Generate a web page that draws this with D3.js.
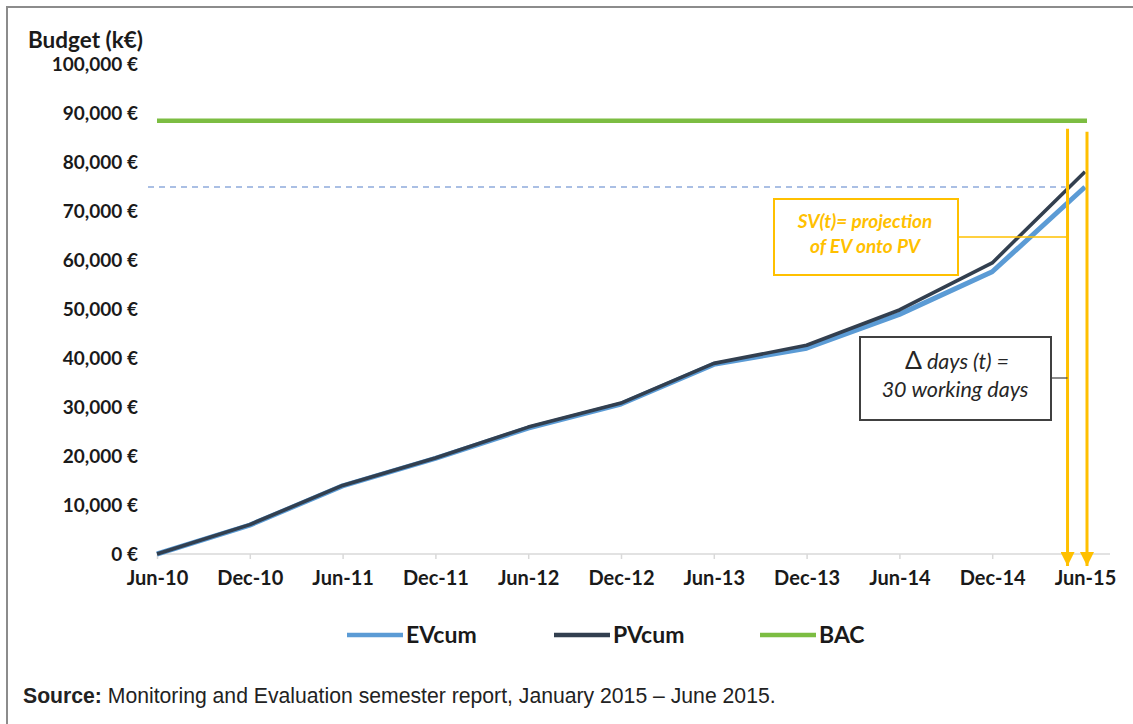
<!doctype html>
<html>
<head>
<meta charset="UTF-8">
<title>EVcum / PVcum / BAC</title>
<script src="https://cdn.jsdelivr.net/npm/d3@7"></script>
<style>
  body { margin: 0; background: #fff; }
  text { font-family: Lato, "Open Sans", sans-serif; }
</style>
</head>
<body>
<svg id="chart" width="1133" height="724"></svg>
<script>
// data
var months = ["Jun-10", "Dec-10", "Jun-11", "Dec-11", "Jun-12", "Dec-12",
              "Jun-13", "Dec-13", "Jun-14", "Dec-14", "Jun-15"];
var evCum = [0, 5900, 13900, 19500, 25700, 30600, 38700, 42000, 48900, 57600, 74900];
var pvCum = [0, 6000, 14000, 19600, 25900, 30800, 38900, 42600, 49800, 59400, 78000];
var bac = 88400;
var yTicks = [0, 10000, 20000, 30000, 40000, 50000, 60000, 70000, 80000, 90000, 100000];
var legendNames = ["EVcum", "PVcum", "BAC"];

var colEV = "#5b9bd5", colPV = "#323f4f", colBAC = "#7cbd42", gold = "#ffc000";

var svg = d3.select("#chart");

// frame (only top and left edges visible in the crop)
svg.append("rect")
   .attr("x", 7).attr("y", 7).attr("width", 1200).attr("height", 800)
   .attr("fill", "none").attr("stroke", "#8c8c8c").attr("stroke-width", 2);

var x = d3.scalePoint().domain(months).range([157, 1085]);
var y = d3.scaleLinear().domain([0, 100000]).range([554, 64]);

// y axis labels, no axis line
var yAxis = svg.append("g")
   .attr("transform", "translate(142,0)")
   .call(d3.axisLeft(y).tickValues(yTicks).tickSize(0).tickPadding(4)
        .tickFormat(function (d) { return d3.format(",")(d) + " \u20ac"; }));
yAxis.select(".domain").remove();
yAxis.selectAll("text")
   .attr("font-size", 19).attr("font-weight", "bold").attr("fill", "#1a1a1a");

svg.append("text")
   .attr("x", 28).attr("y", 48)
   .attr("font-size", 22.5).attr("font-weight", "bold").attr("fill", "#1a1a1a")
   .text("Budget (k\u20ac)");

// x axis
var xAxis = svg.append("g")
   .attr("transform", "translate(0," + y(0) + ")")
   .call(d3.axisBottom(x).tickSize(5).tickPadding(12).tickSizeOuter(0));
xAxis.select(".domain").attr("stroke", "#d9d9d9").attr("stroke-width", 1.5)
   .attr("d", "M" + x(months[0]) + ",0H" + (x(months[10]) + 25));
xAxis.selectAll(".tick line").attr("stroke", "#d9d9d9").attr("stroke-width", 1.5);
xAxis.selectAll("text")
   .attr("font-size", 20).attr("font-weight", "bold").attr("fill", "#1a1a1a");

// BAC
svg.append("line")
   .attr("x1", x(months[0])).attr("x2", x(months[10]) + 2)
   .attr("y1", y(bac)).attr("y2", y(bac))
   .attr("stroke", colBAC).attr("stroke-width", 4.5);

// projection of EV onto PV
var evEnd = evCum[evCum.length - 1];
var i0 = 9;
var t = (evEnd - pvCum[i0]) / (pvCum[i0 + 1] - pvCum[i0]);
var xProj = x(months[i0]) + t * (x(months[i0 + 1]) - x(months[i0]));

svg.append("line")
   .attr("x1", x(months[0]) - 9).attr("x2", xProj - 4)
   .attr("y1", y(evEnd)).attr("y2", y(evEnd))
   .attr("stroke", "#8eaadb").attr("stroke-width", 1.6)
   .attr("stroke-dasharray", "6,5");

var line = d3.line()
   .x(function (d, i) { return x(months[i]); })
   .y(function (d) { return y(d); });

svg.append("path").datum(evCum)
   .attr("d", line).attr("fill", "none")
   .attr("stroke", colEV).attr("stroke-width", 5).attr("stroke-linejoin", "round");
svg.append("path").datum(pvCum)
   .attr("d", line).attr("fill", "none")
   .attr("stroke", colPV).attr("stroke-width", 3.6).attr("stroke-linejoin", "round");

// yellow arrows
svg.append("defs").append("marker")
   .attr("id", "tri").attr("viewBox", "0 0 10 10")
   .attr("refX", 10).attr("refY", 5)
   .attr("markerUnits", "userSpaceOnUse")
   .attr("markerWidth", 14).attr("markerHeight", 14)
   .attr("orient", "auto")
   .append("path").attr("d", "M0,0L10,5L0,10Z").attr("fill", gold);

[[xProj - 2, y(bac) + 8], [x(months[10]) + 2, y(bac) + 11]].forEach(function (a) {
  svg.append("line")
     .attr("x1", a[0]).attr("x2", a[0])
     .attr("y1", a[1]).attr("y2", 566)
     .attr("stroke", gold).attr("stroke-width", 3)
     .attr("marker-end", "url(#tri)");
});

// SV(t) box
svg.append("line")
   .attr("x1", 958).attr("x2", xProj - 2).attr("y1", 237).attr("y2", 237)
   .attr("stroke", gold).attr("stroke-width", 1.5);
svg.append("rect")
   .attr("x", 774).attr("y", 199).attr("width", 184).attr("height", 76)
   .attr("fill", "#fff").attr("stroke", gold).attr("stroke-width", 2);
var sv = svg.append("text")
   .attr("text-anchor", "middle").attr("font-size", 19)
   .attr("font-weight", "bold").attr("font-style", "italic").attr("fill", gold);
sv.append("tspan").attr("x", 865).attr("y", 228).text("SV(t)= projection");
sv.append("tspan").attr("x", 865).attr("y", 253).text("of EV onto PV");

// delta days box
svg.append("line")
   .attr("x1", 1051).attr("x2", xProj - 2).attr("y1", 378).attr("y2", 378)
   .attr("stroke", "#404040").attr("stroke-width", 1.2);
svg.append("rect")
   .attr("x", 860).attr("y", 337).attr("width", 191).attr("height", 83)
   .attr("fill", "#fff").attr("stroke", "#404040").attr("stroke-width", 2);
var dt = svg.append("text")
   .attr("text-anchor", "middle").attr("font-size", 21.5).attr("fill", "#262626");
var l1 = dt.append("tspan").attr("x", 957).attr("y", 369);
l1.append("tspan").attr("font-size", 25).text("\u0394");
l1.append("tspan").attr("font-style", "italic").text(" days (t) =");
dt.append("tspan").attr("x", 955).attr("y", 397).attr("font-style", "italic")
  .text("30 working days");

// legend
var legendCols = [colEV, colPV, colBAC];
var legendX = [347, 554, 760];
var lg = svg.selectAll("g.lg").data(legendNames).enter().append("g")
   .attr("class", "lg")
   .attr("transform", function (d, i) { return "translate(" + legendX[i] + ",635)"; });
lg.append("line").attr("x1", 0).attr("x2", 56).attr("y1", 0).attr("y2", 0)
   .attr("stroke", function (d, i) { return legendCols[i]; }).attr("stroke-width", 4.5);
lg.append("text").attr("x", 59).attr("y", 8)
   .attr("font-size", 23).attr("font-weight", "bold").attr("fill", "#1a1a1a")
   .text(function (d) { return d; });

// source line
var src = svg.append("text")
   .attr("x", 23).attr("y", 703)
   .style("font-family", "'Liberation Sans', Arial, sans-serif")
   .attr("font-size", 21.2).attr("fill", "#222");
src.append("tspan").attr("font-weight", "bold").text("Source:");
src.append("tspan").text(" Monitoring and Evaluation semester report, January 2015 \u2013 June 2015.");
</script>
</body>
</html>
